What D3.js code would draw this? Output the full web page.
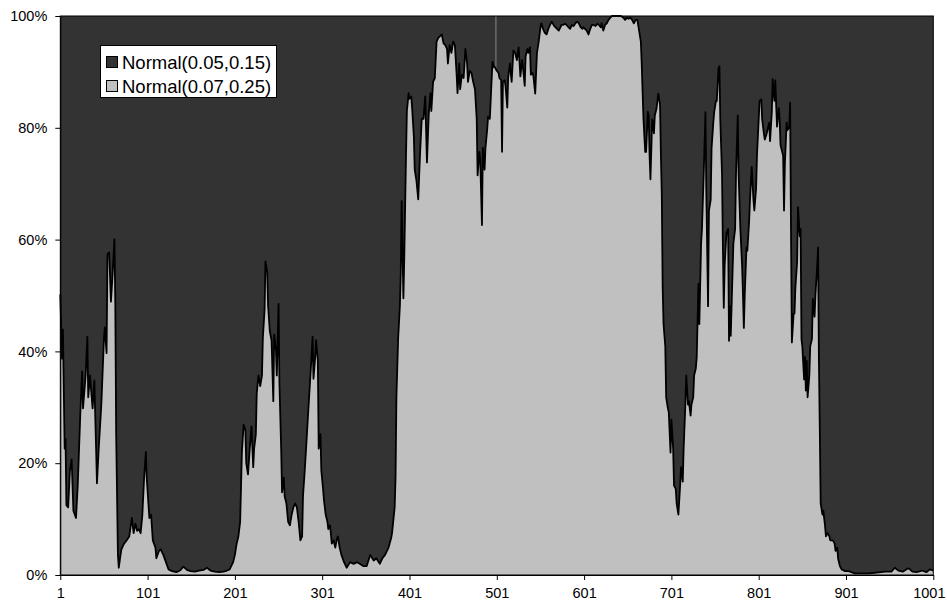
<!DOCTYPE html>
<html>
<head>
<meta charset="utf-8">
<script src="https://cdn.jsdelivr.net/npm/d3@7"></script>
<style>
  html, body { margin: 0; padding: 0; background: #ffffff; }
  svg { display: block; }
  text { font-family: Arial, "Liberation Sans", sans-serif; fill: #000; }
</style>
</head>
<body>
<svg id="chart" width="947" height="605"></svg>
<script>
// ---- data ----
const seriesNames = ["Normal(0.05,0.15)", "Normal(0.07,0.25)"];
const seriesColors = ["#333333", "#c0c0c0"];
const xTickLabels = [1, 101, 201, 301, 401, 501, 601, 701, 801, 901, 1001];
const yTickLabels = [0, 0.2, 0.4, 0.6, 0.8, 1.0];

// observation index (x) and share (%) of Normal(0.07,0.25) in the 100% stack
const obsIndex = [
  1,3,4,6,7,8,10,12,14,16,19,21,24,26,27,30,32,33,35,38,40,42,43,45,48,51,52,54,55,57,59,61,63,64,65,67,68,70,71,74,77,80,83,85,87,89,91,93,95,97,99,100,103,105,107,110,111,114,116,119,122,125,129,134,
  138,142,146,150,155,160,165,169,173,178,183,188,192,195,199,201,203,205,207,209,211,213,214,216,218,220,222,223,225,226,228,230,232,233,235,236,238,239,241,243,245,246,248,249,251,252,254,255,257,258,260,262,264,266,268,270,
  272,274,276,278,279,281,283,285,287,288,290,291,293,294,296,297,299,300,302,303,305,307,308,310,312,314,316,318,319,321,323,326,329,333,337,341,344,348,352,356,360,363,367,370,373,377,380,381,384,385,386,388,390,391,392,394,395,397,398,400,401,403,404,406,
  407,409,411,413,415,417,419,421,423,425,426,428,430,432,434,436,438,440,442,444,445,447,449,451,453,455,456,458,459,461,463,465,467,468,470,472,474,476,478,479,481,482,484,485,487,488,490,491,493,494,496,498,499,501,503,504,506,507,508,510,511,513,514,516,518,520,522,524,526,528,530,531,533,534,536,537,539,540,542,543,545,
  547,549,551,552,554,556,558,560,562,564,566,568,570,572,574,575,577,579,581,583,585,587,589,591,593,595,597,599,600,602,604,606,608,610,612,614,616,618,620,621,623,625,627,629,631,633,635,637,639,641,643,644,646,648,650,652,654,656,658,660,662,664,666,667,669,671,672,674,675,676,677,679,680,681,
  682,684,686,688,689,690,691,692,694,695,697,698,700,701,703,704,706,707,709,711,712,714,715,717,718,720,721,723,724,726,727,729,730,732,733,735,736,738,740,741,743,744,746,747,749,750,752,753,755,756,757,759,760,761,762,764,766,767,768,769,771,772,774,775,777,778,780,782,783,784,785,787,788,790,791,793,795,796,798,799,801,802,804,805,807,808,810,811,813,814,816,817,819,
  820,821,822,824,825,826,827,829,830,831,833,834,836,837,838,839,841,842,843,845,846,848,849,850,851,853,854,855,856,857,859,860,862,863,865,866,868,869,870,871,872,874,875,877,878,880,882,883,885,886,888,889,891,892,894,896,900,904,911,919,927,934,946,953,957,961,966,970,973,977,982,988,993,997,1001
];
const lowerShare = [
  50.2,38.7,43.9,22.6,24.3,12.5,12.1,18.7,20.7,11.5,10.2,16.1,29.2,36.4,29.8,35.7,42.6,31.8,35.7,29.8,34.8,22.6,16.4,22.6,30.5,42.3,44.3,39.7,57.4,57.7,48.9,54.1,60.1,48.9,25.2,3.6,1.3,3.6,4.6,5.6,6.2,6.9,10.2,7.5,9.2,7.9,8.2,7.5,10.8,17.4,22.0,17.4,10.2,10.8,6.2,4.9,3.0,4.3,4.6,3.6,2.3,1.0,0.7,0.5,
  0.8,1.5,0.9,0.7,0.6,0.8,0.9,1.3,0.8,0.6,0.5,0.6,0.8,1.0,2.3,3.6,5.6,6.9,9.5,22.0,26.9,25.9,20.0,18.0,22.6,26.6,19.3,22.6,25.2,32.5,35.7,33.8,35.7,42.3,47.5,56.1,54.1,48.2,43.6,42.0,31.1,43.0,40.3,35.7,48.5,34.4,22.6,14.8,17.4,14.1,12.8,9.5,8.9,10.8,12.1,12.8,
  12.1,9.5,6.2,6.9,14.1,18.7,23.9,29.2,34.4,37.0,42.6,35.1,39.0,42.0,38.4,22.6,25.2,18.7,15.4,13.4,10.8,9.5,8.2,8.9,5.6,6.2,4.9,6.6,6.9,4.9,3.6,2.3,1.3,2.3,2.0,2.3,2.0,1.6,1.6,3.6,2.6,3.0,2.0,3.0,3.6,4.9,6.6,7.5,12.1,17.4,31.8,42.3,48.2,54.1,66.9,49.5,56.7,75.1,83.0,86.2,85.2,85.6,83.6,78.4,
  72.5,70.5,67.2,75.1,81.6,81.6,85.6,73.8,82.3,86.2,83.0,88.2,88.9,95.4,96.1,96.4,96.7,95.1,94.8,94.1,91.5,94.8,93.4,95.4,94.8,89.5,86.2,91.5,86.9,89.5,88.9,94.1,91.5,88.2,90.2,89.8,88.2,86.9,81.6,71.5,75.7,74.4,62.6,76.4,72.5,76.4,79.7,82.0,81.6,84.9,91.8,90.8,90.8,90.2,89.8,88.9,88.5,75.7,88.2,88.5,87.5,83.6,88.9,91.5,88.2,93.8,93.4,92.1,94.4,89.2,92.1,90.8,87.5,92.8,94.1,93.4,94.4,89.5,89.8,89.2,86.1,
  93.4,95.4,98.0,98.7,97.7,97.0,96.7,97.7,98.4,99.0,98.4,98.0,97.7,97.4,98.0,98.4,98.4,98.6,98.4,98.0,97.7,98.4,98.2,98.7,99.0,98.7,98.0,97.7,98.0,97.7,97.4,96.7,97.7,98.4,98.4,98.2,98.6,98.4,98.0,98.7,97.4,98.4,98.7,99.3,99.7,100,100,100,100,100,100,99.9,99.7,99.3,99.7,99.5,99.7,99.3,98.7,99.3,99.3,97.4,95.4,91.5,81.6,75.7,75.7,82.9,82.2,75.1,70.8,81.5,80.9,79.0,
  82.2,83.5,86.1,84.1,75.0,68.0,51.4,44.9,40.9,31.8,29.8,29.1,21.9,27.8,22.6,16.0,15.4,12.8,10.8,16.0,19.3,16.7,22.6,30.5,35.7,30.5,31.1,28.5,30.5,31.8,35.7,37.0,39.0,52.1,44.9,59.3,61.9,71.7,82.8,68.4,48.1,65.2,67.1,76.3,80.9,82.8,84.8,84.8,90.7,91.0,81.5,71.7,58.6,47.8,55.3,61.2,61.9,41.9,48.1,42.8,54.0,59.3,61.9,71.7,82.2,71.7,61.9,55.3,50.1,44.2,50.1,58.6,58.0,63.2,67.1,73.0,67.1,65.2,69.1,75.0,81.5,84.8,85.1,81.5,78.9,77.9,78.9,79.6,80.9,77.6,82.8,88.7,84.8,
  88.5,84.1,80.2,83.5,81.5,76.9,76.3,75.0,65.2,73.7,80.9,79.6,80.2,84.5,61.9,41.6,46.8,46.8,51.4,56.0,65.8,60.6,61.9,42.2,40.9,35.0,39.0,33.0,38.3,31.8,35.7,40.9,42.2,49.4,46.2,50.1,55.3,58.6,38.3,25.9,12.8,10.8,11.5,8.8,6.9,7.5,6.9,6.2,6.2,6.2,5.6,4.3,4.9,2.9,1.6,1.0,0.7,0.7,0.3,0.3,0.3,0.4,0.6,0.6,1.3,0.8,0.6,1.0,1.2,0.6,0.5,0.8,0.5,1.0,0.8
];
const dropLineAt = 500;   // faint vertical line visible at observation 500

// ---- build ----
const nPts = Math.min(obsIndex.length, lowerShare.length);
const data = obsIndex.slice(0, nPts).map((xv, i) => ({ x: xv, v: lowerShare[i] / 100 }));

const svg = d3.select("#chart");
const plotL = 60.3, plotR = 933.3, plotT = 16, plotB = 575;

const x = d3.scaleLinear().domain([1, 1001]).range([plotL, plotR]);
const y = d3.scaleLinear().domain([0, 1]).range([plotB, plotT]);

// upper series: from the lower share up to 100%
svg.append("path")
  .datum(data)
  .attr("fill", seriesColors[0])
  .attr("d", d3.area().x(d => x(d.x)).y0(d => y(d.v)).y1(() => y(1)));

// lower series
svg.append("path")
  .datum(data)
  .attr("fill", seriesColors[1])
  .attr("d", d3.area().x(d => x(d.x)).y0(y(0)).y1(d => y(d.v)));

// faint drop line
const vAt = d3.bisector(d => d.x).left(data, dropLineAt);
svg.append("line")
  .attr("x1", x(dropLineAt)).attr("x2", x(dropLineAt))
  .attr("y1", y(1)).attr("y2", y(data[vAt].v))
  .attr("stroke", "#8a8a8a").attr("stroke-width", 1);

// boundary line
svg.append("path")
  .datum(data)
  .attr("fill", "none")
  .attr("stroke", "#000")
  .attr("stroke-width", 1.8)
  .attr("stroke-linejoin", "round")
  .attr("d", d3.line().x(d => x(d.x)).y(d => y(d.v)));

// plot border
svg.append("rect")
  .attr("x", plotL).attr("y", plotT)
  .attr("width", plotR - plotL).attr("height", plotB - plotT)
  .attr("fill", "none").attr("stroke", "#000").attr("stroke-width", 1);

// axes
const yAxis = svg.append("g")
  .attr("transform", `translate(${plotL},0)`)
  .call(d3.axisLeft(y).tickValues(yTickLabels).tickFormat(d3.format(".0%")).tickSize(5).tickSizeOuter(0).tickPadding(8));
const xAxis = svg.append("g")
  .attr("transform", `translate(0,${plotB})`)
  .call(d3.axisBottom(x).tickValues(xTickLabels).tickFormat(d3.format("d")).tickSize(5).tickSizeOuter(0).tickPadding(8));
[yAxis, xAxis].forEach(g => {
  g.selectAll("path.domain").attr("stroke", "#000");
  g.selectAll("line").attr("stroke", "#000");
  g.selectAll("text").attr("font-family", "Arial, 'Liberation Sans', sans-serif").attr("font-size", 14.5).attr("fill", "#000");
});
// keep the last x label inside the page
xAxis.selectAll(".tick").filter(d => d === xTickLabels[xTickLabels.length - 1])
  .select("text").attr("text-anchor", "end").attr("x", 945 - plotR);

// legend
const lg = svg.append("g");
lg.append("rect")
  .attr("x", 100.5).attr("y", 45.5).attr("width", 176).attr("height", 52)
  .attr("fill", "#fff").attr("stroke", "#000").attr("stroke-width", 1);
seriesNames.forEach((name, i) => {
  const cy = 62 + i * 24;
  lg.append("rect")
    .attr("x", 106.5).attr("y", cy - 5.5).attr("width", 11).attr("height", 11)
    .attr("fill", seriesColors[i]).attr("stroke", "#000").attr("stroke-width", 1);
  lg.append("text")
    .attr("x", 122).attr("y", cy).attr("dy", "0.36em")
    .attr("font-size", 18.5)
    .text(name);
});
</script>
</body>
</html>
